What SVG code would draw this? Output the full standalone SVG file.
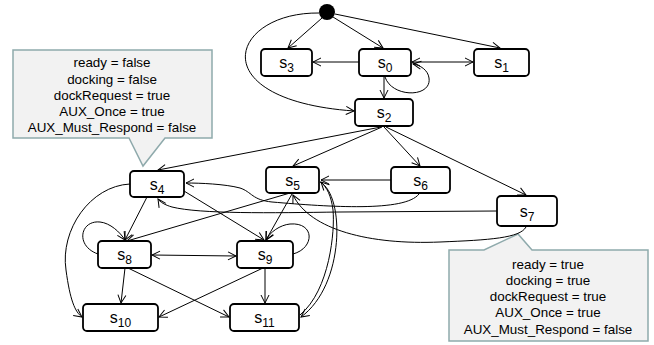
<svg xmlns="http://www.w3.org/2000/svg" width="654" height="345" viewBox="0 0 654 345">
<style>
.n rect{fill:#fff;stroke:#000;stroke-width:1.8}
.n text{font-family:"Liberation Sans",Arial,sans-serif;font-size:16px;text-anchor:middle;fill:#000}
.n tspan{font-size:12px}
.e path{fill:none;stroke:#000;stroke-width:1;marker-end:url(#a)}
.e path.b{marker-start:url(#a)}
.e path.nm{marker-end:none}
.co path{fill:#f2f2f2;stroke:#8faaac;stroke-width:1.5}
.co text{font-family:"Liberation Sans",Arial,sans-serif;font-size:13.4px;text-anchor:middle;fill:#000}
</style>
<defs>
<marker id="a" viewBox="-10 -6 12 12" refX="0" refY="0" markerWidth="12" markerHeight="12" markerUnits="userSpaceOnUse" orient="auto-start-reverse">
<path d="M-8,-4 L0,0 L-8,4" fill="none" stroke="#000" stroke-width="1"/>
</marker>
</defs>
<g id="callout-left" class="co">
<path d="M13,50 H212 V138 H165 L143,166 L129,138 H13 Z"/>
<text x="112" y="67">ready = false</text>
<text x="112" y="84">docking = false</text>
<text x="112" y="100">dockRequest = true</text>
<text x="112" y="116">AUX_Once = true</text>
<text x="112" y="132">AUX_Must_Respond = false</text>
</g>
<g id="callout-right" class="co">
<path d="M449,250 H484 L518,234 L532,250 H648 V341 H449 Z"/>
<text x="548" y="269">ready = true</text>
<text x="548" y="285">docking = true</text>
<text x="548" y="301">dockRequest = true</text>
<text x="548" y="317">AUX_Once = true</text>
<text x="548" y="334">AUX_Must_Respond = false</text>
</g>
<g id="connectors" class="e">
<path d="M322,18 L288,48"/>
<path d="M333,17 L383,48"/>
<path d="M335,14 L500,48"/>
<path d="M319,13 C230,12 200,100 354,111"/>
<path d="M359,62 L313,62"/>
<path class="b" d="M412,62 L473,62"/>
<path d="M385,77 C392,98 432,98 429,78 C428,70 420,65 413,64"/>
<path d="M384,77 L384,98"/>
<path d="M381,127 L158,170"/>
<path d="M382,127 L293,166"/>
<path d="M384,127 L420,166"/>
<path d="M386,127 L526,195"/>
<path d="M391,180 L321,180"/>
<path d="M419,194 C405,212 330,207 272,202 C252,200 252,192 240,188 C225,184 200,183 186,183"/>
<path d="M497,211 L340,212 C270,213 200,214 172,207 C165,205 160,202 158,199"/>
<path d="M526,227 C520,238 490,240 440,242 C370,245 310,230 293,195"/>
<path d="M320,182 C345,195 345,285 301,317"/>
<path d="M300,315 C330,290 335,230 333,210 C331,195 327,188 321,182"/>
<path d="M130,184 C90,186 60,230 66,270 C70,300 75,312 82,317"/>
<path d="M147,197 L125,240"/>
<path d="M184,191 L264,240"/>
<path d="M290,193 L127,241"/>
<path d="M292,194 L266,240"/>
<path d="M98,254 C75,246 80,220 100,222 C110,223 120,232 125,240"/>
<path d="M293,254 C315,248 315,222 290,224 C280,225 270,232 266,240"/>
<path class="b" d="M152,255 L236,256"/>
<path d="M125,268 L121,303"/>
<path d="M128,268 L229,317"/>
<path d="M263,268 L159,317"/>
<path d="M265,268 L265,303"/>
</g>
<g id="init"><circle cx="327" cy="12" r="8" fill="#000"/></g>
<g id="s0" class="n"><rect x="359" y="49" width="52" height="27" rx="4"/><text x="385" y="68">s<tspan dy="4">0</tspan></text></g>
<g id="s1" class="n"><rect x="474" y="49" width="55" height="27" rx="4"/><text x="501.5" y="68">s<tspan dy="4">1</tspan></text></g>
<g id="s2" class="n"><rect x="355" y="99" width="58" height="27" rx="4"/><text x="384" y="118">s<tspan dy="4">2</tspan></text></g>
<g id="s3" class="n"><rect x="261" y="49" width="51" height="27" rx="4"/><text x="286.5" y="68">s<tspan dy="4">3</tspan></text></g>
<g id="s4" class="n"><rect x="130" y="171" width="54" height="26" rx="4"/><text x="157" y="189.5">s<tspan dy="4">4</tspan></text></g>
<g id="s5" class="n"><rect x="266" y="167" width="53" height="26" rx="4"/><text x="292.5" y="185.5">s<tspan dy="4">5</tspan></text></g>
<g id="s6" class="n"><rect x="391" y="167" width="59" height="26" rx="4"/><text x="420.5" y="185.5">s<tspan dy="4">6</tspan></text></g>
<g id="s7" class="n"><rect x="497" y="196" width="60" height="30" rx="4"/><text x="527" y="216.5">s<tspan dy="4">7</tspan></text></g>
<g id="s8" class="n"><rect x="98" y="241" width="53" height="27" rx="4"/><text x="124.5" y="260">s<tspan dy="4">8</tspan></text></g>
<g id="s9" class="n"><rect x="237" y="241" width="56" height="27" rx="4"/><text x="265" y="260">s<tspan dy="4">9</tspan></text></g>
<g id="s10" class="n"><rect x="83" y="304" width="75" height="27" rx="4"/><text x="120.5" y="323">s<tspan dy="4">10</tspan></text></g>
<g id="s11" class="n"><rect x="230" y="304" width="69" height="27" rx="4"/><text x="264.5" y="323">s<tspan dy="4">11</tspan></text></g>
</svg>
